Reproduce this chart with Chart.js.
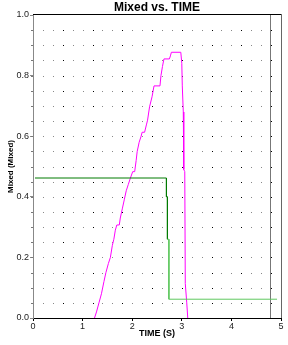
<!DOCTYPE html>
<html>
<head>
<meta charset="utf-8">
<script src="https://cdn.jsdelivr.net/npm/chart.js@4/dist/chart.umd.min.js"></script>
<style>
  html, body { margin: 0; padding: 0; background: #fff; }
  #wrap { width: 288px; height: 345px; }
</style>
</head>
<body>
<div id="wrap"><canvas id="myChart" width="288" height="345"></canvas></div>
<script>
'use strict';
// chart values

let greenX = [0.04, 2.69, 2.69, 2.71, 2.71, 2.74, 2.74, 4.92];
let greenY = [0.462, 0.462, 0.40, 0.40, 0.26, 0.26, 0.062, 0.062];

let pinkX = [1.24, 1.28, 1.33, 1.38, 1.43, 1.47, 1.52, 1.56, 1.60, 1.63, 1.66, 1.69, 1.74, 1.76, 1.80, 1.84, 1.88, 1.92, 1.96, 2.01, 2.05, 2.08, 2.10, 2.14, 2.18, 2.20, 2.25, 2.29, 2.31, 2.35, 2.40, 2.44, 2.56, 2.58, 2.61, 2.64, 2.75, 2.77, 2.79, 2.98, 3.00, 3.01, 3.03, 3.04, 3.06, 3.07, 3.10, 3.12];
let pinkY = [0, 0.02, 0.05, 0.08, 0.12, 0.15, 0.18, 0.20, 0.24, 0.26, 0.29, 0.307, 0.307, 0.33, 0.36, 0.39, 0.42, 0.44, 0.46, 0.483, 0.483, 0.52, 0.549, 0.58, 0.60, 0.613, 0.613, 0.64, 0.653, 0.697, 0.73, 0.766, 0.766, 0.80, 0.83, 0.855, 0.855, 0.865, 0.877, 0.877, 0.84, 0.766, 0.68, 0.49, 0.483, 0.114, 0.05, 0];

let xTicks = [0, 1, 2, 3, 4, 5];
let yTicks = [0, 0.2, 0.4, 0.6, 0.8, 1.0];
let cursorX = 4.77;

function toPoints(xs, ys) {
  let pts = [];
  for (let i = 0; i < xs.length; i++) {
    pts.push({x: xs[i], y: ys[i]});
  }
  return pts;
}

// dotted grid, frame, minor ticks and the gray cursor line
const framePlugin = {
  id: 'frame',
  beforeDatasetsDraw(chart) {
    const ctx = chart.ctx;
    const xs = chart.scales.x;
    const ys = chart.scales.y;
    const a = chart.chartArea;
    ctx.save();
    for (let i = 1; i < 25; i++) {
      let px = Math.round(xs.getPixelForValue(i * 0.2));
      for (let j = 1; j < 20; j++) {
        let py = Math.round(ys.getPixelForValue(j * 0.05));
        ctx.fillStyle = (i % 3 === 0) ? '#000' : '#888';
        ctx.fillRect(px, py, 1, 1);
      }
    }
    // minor ticks on the y axis
    ctx.fillStyle = '#777';
    for (let j = 1; j < 20; j++) {
      let py = Math.round(ys.getPixelForValue(j * 0.05));
      ctx.fillRect(a.left - 2, py, 2, 1);
    }
    // minor ticks on the x axis
    ctx.fillStyle = '#000';
    for (let i = 1; i < 25; i++) {
      let px = Math.round(xs.getPixelForValue(i * 0.2));
      ctx.fillRect(px, a.bottom, 1, 1);
    }
    // top border
    ctx.fillStyle = '#000';
    ctx.fillRect(a.left, a.top - 1, a.right - a.left, 1);
    // right border
    ctx.fillStyle = '#666';
    ctx.fillRect(a.right, a.top - 1, 1, a.bottom - a.top + 1);
    // cursor
    let cx = Math.round(xs.getPixelForValue(cursorX));
    ctx.fillStyle = '#777';
    ctx.fillRect(cx, a.top, 1, a.bottom - a.top);
    ctx.restore();
  },
  afterDraw(chart) {
    const ctx = chart.ctx;
    const a = chart.chartArea;
    ctx.save();
    ctx.fillStyle = '#000';
    ctx.font = 'bold 12px "Liberation Sans", Arial, sans-serif';
    ctx.textAlign = 'center';
    ctx.textBaseline = 'middle';
    ctx.fillText('Mixed vs. TIME', (a.left + a.right) / 2, 8);
    ctx.restore();
  }
};

const data = {
  datasets: [{
    label: 'Mixed',
    data: toPoints(greenX, greenY),
    borderColor: '#007a00',
    borderWidth: 1,
    pointRadius: 0,
    segment: {
      borderColor: ctx => ctx.p0DataIndex >= 4 ? '#5fc85f' : '#007a00'
    }
  },
  {
    label: 'Mixed 2',
    data: toPoints(pinkX, pinkY),
    borderColor: '#ff00ff',
    borderWidth: 1,
    pointRadius: 0
  }]
};

const config = {
  type: 'line',
  data: data,
  options: {
    responsive: false,
    animation: false,
    layout: {
      padding: {left: 0, right: 7, top: 15, bottom: 0}
    },
    plugins: {
      legend: {display: false},
      tooltip: {enabled: false}
    },
    scales: {
      x: {
        type: 'linear',
        min: 0,
        max: 5,
        afterBuildTicks(scale) {
          scale.ticks = xTicks.map(v => ({value: v}));
        },
        afterFit(scale) { scale.height = 27; },
        ticks: {
          color: '#222',
          padding: 0,
          font: {size: 9, family: '"Liberation Sans", Arial, sans-serif'},
          callback: v => String(v)
        },
        grid: {drawOnChartArea: false, tickLength: 3, color: '#000'},
        border: {color: '#000'},
        title: {
          display: true,
          text: 'TIME (S)',
          color: '#000',
          padding: {top: 0, bottom: 6},
          font: {size: 9, weight: 'bold', family: '"Liberation Sans", Arial, sans-serif'}
        }
      },
      y: {
        min: 0,
        max: 1,
        afterBuildTicks(scale) {
          scale.ticks = yTicks.map(v => ({value: v}));
        },
        afterFit(scale) { scale.width = 33; },
        ticks: {
          color: '#222',
          padding: 1,
          font: {size: 9, family: '"Liberation Sans", Arial, sans-serif'},
          callback: v => v.toFixed(1)
        },
        grid: {drawOnChartArea: false, tickLength: 3, color: '#888'},
        border: {color: '#888'},
        title: {
          display: true,
          text: 'Mixed (Mixed)',
          color: '#000',
          padding: {top: 6, bottom: 0},
          font: {size: 8, weight: 'bold', family: '"Liberation Sans", Arial, sans-serif'}
        }
      }
    }
  },
  plugins: [framePlugin]
};

const chart = document.getElementById('myChart');
const myChart = new Chart(chart, config);
</script>
</body>
</html>
